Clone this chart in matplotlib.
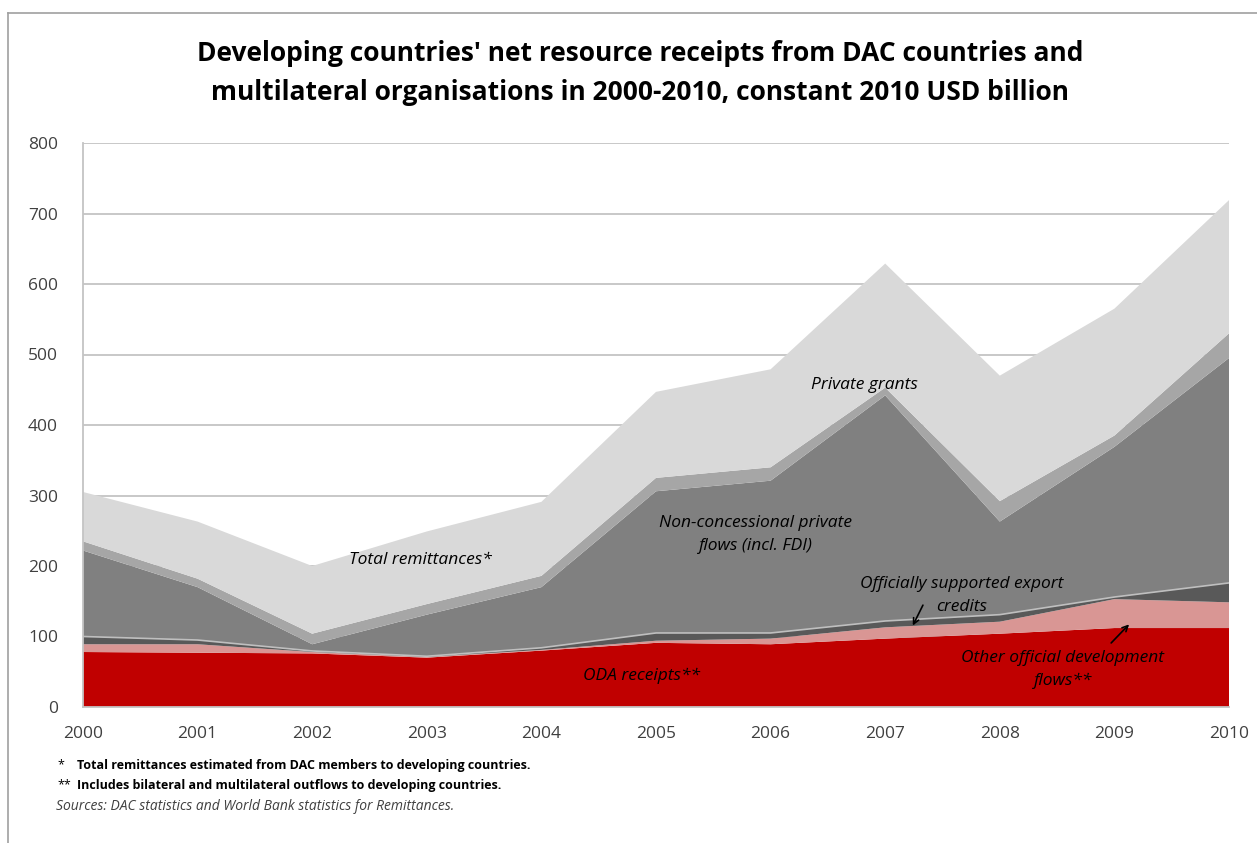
import matplotlib
matplotlib.use("Agg")
import matplotlib.pyplot as plt
from matplotlib.lines import Line2D
import numpy as np

plt.rcParams['font.family'] = ['Open Sans', 'DejaVu Sans']

years = [2000, 2001, 2002, 2003, 2004, 2005, 2006, 2007, 2008, 2009, 2010]
oda = [78, 77, 76, 70, 80, 91, 89, 97, 104, 112, 112]
other_official = [11, 12, 2, 1, 1, 3, 8, 16, 17, 41, 36.5]
export_credits = [11, 6, 1.5, 1, 3, 11, 8, 9, 10, 3, 27.5]
non_concessional = [122, 75, 9.5, 59, 86, 201, 216, 320, 132, 213, 319]
private_grants = [13, 12, 15, 15, 16, 19, 19, 11, 29, 16, 35]
remittances = [70, 81, 96, 103, 105, 122, 139, 176, 178, 180, 189]

series = [oda, other_official, export_credits, non_concessional, private_grants, remittances]
colors = ['#C00000', '#D99694', '#595959', '#808080', '#A6A6A6', '#D9D9D9']

W, H = 1257, 843
fig = plt.figure(figsize=(W / 100, H / 100), dpi=100)
ax = fig.add_axes([83 / W, 1 - 707 / H, (1229 - 83) / W, (707 - 143) / H])

ax.stackplot(years, *series, colors=colors, linewidth=0, zorder=2)
cum_export = np.array(oda) + np.array(other_official) + np.array(export_credits)
ax.plot(years, cum_export, color='#BFBFBF', lw=1.2, zorder=3)

ax.set_xlim(2000, 2010)
ax.set_ylim(0, 800)
ax.set_yticks(range(0, 801, 100))
ax.set_xticks(years)
ax.yaxis.grid(True, color='#C4C4C4', lw=1.3, zorder=0)
ax.set_axisbelow(True)
for s in ['top', 'right']:
    ax.spines[s].set_visible(False)
for s in ['left', 'bottom']:
    ax.spines[s].set_color('#C4C4C4')
    ax.spines[s].set_linewidth(1.3)
ax.tick_params(axis='both', length=0, labelsize=12.5, colors='#404040')
ax.tick_params(axis='y', pad=18)
ax.tick_params(axis='x', pad=14)

tk = dict(fontsize=12.5, style='italic', color='black', ha='center', va='center', zorder=5)
ax.text(2002.94, 209, 'Total remittances*', **tk)
ax.text(2006.82, 457, 'Private grants', **tk)
ax.text(2005.87, 245, 'Non-concessional private\nflows (incl. FDI)', linespacing=1.6, **tk)
ax.text(2007.67, 158, 'Officially supported export\ncredits', linespacing=1.6, **tk)
ax.text(2008.55, 53, 'Other official development\nflows**', linespacing=1.6, **tk)
ax.text(2004.87, 44, 'ODA receipts**', **tk)

ax.annotate('', xy=(2007.23, 112), xytext=(2007.34, 148),
            arrowprops=dict(arrowstyle='->', color='black', lw=1.2), zorder=6)
ax.annotate('', xy=(2009.145, 120), xytext=(2008.955, 88),
            arrowprops=dict(arrowstyle='->', color='black', lw=1.2), zorder=6)

fig.text(640 / W, 1 - 73 / H,
         "Developing countries' net resource receipts from DAC countries and\n"
         "multilateral organisations in 2000-2010, constant 2010 USD billion",
         ha='center', va='center', fontsize=19, fontweight='bold', linespacing=1.55)

fig.text(57 / W, 1 - 765 / H, '*', fontsize=9, va='center')
fig.text(77 / W, 1 - 765 / H, 'Total remittances estimated from DAC members to developing countries.',
         fontsize=9.0, va='center', fontweight='bold')
fig.text(57 / W, 1 - 785 / H, '**', fontsize=9, va='center')
fig.text(77 / W, 1 - 785 / H, 'Includes bilateral and multilateral outflows to developing countries.',
         fontsize=9.0, va='center', fontweight='bold')
fig.text(56 / W, 1 - 807 / H, 'Sources: DAC statistics and World Bank statistics for Remittances.',
         fontsize=10, va='center', style='italic', color='#404040')

fig.add_artist(Line2D([8 / W, 1], [1 - 13 / H, 1 - 13 / H], color='#A0A0A0', lw=1.2))
fig.add_artist(Line2D([8 / W, 8 / W], [0, 1 - 13 / H], color='#A0A0A0', lw=1.2))

fig.savefig('out.png', dpi=100)
